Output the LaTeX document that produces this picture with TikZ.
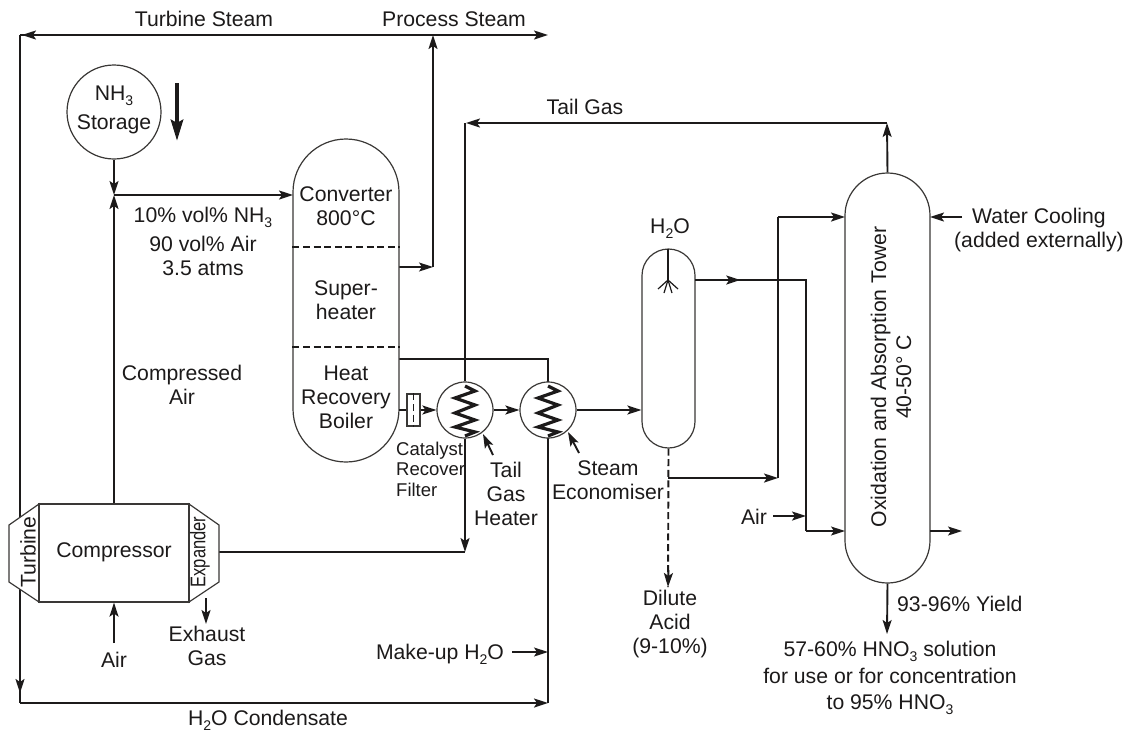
\documentclass[tikz,border=0pt]{standalone}
\usepackage{fontspec}
\usepackage{graphicx}
\setmainfont{Liberation Sans}
\usetikzlibrary{arrows.meta,decorations.markings}
\newcommand{\sbs}[1]{\raisebox{-5pt}{\fontsize{14}{14}\selectfont #1}}
\definecolor{ink}{HTML}{1C1A1A}
\definecolor{shell}{HTML}{3A3836}
\tikzset{
  x=1pt,y=-1pt,
  txt/.style={text=ink,inner sep=0pt,align=center,font=\fontsize{21.2}{24}\selectfont},
  small/.style={txt,align=left,anchor=west,font=\fontsize{18.5}{20.5}\selectfont},
  thin line/.style={draw=ink,line width=1.2pt},
  thick line/.style={draw=ink,line width=1.9pt},
  tipend/.style={-{Stealth[length=14pt,width=9pt,inset=3pt]}},
  tipat/.style={postaction={decorate,decoration={markings,mark=at position #1 with {\arrow{Stealth[length=14pt,width=9pt,inset=3pt]}}}}},
  vessel/.style={draw=shell,line width=1.2pt,fill=white,inner sep=0pt,rectangle},
  exch/.style={circle,draw=shell,line width=1.2pt,fill=white,minimum size=56pt,inner sep=0pt},
  coil/.style={draw=ink,line width=3.2pt,line join=miter},
  divider/.style={draw=ink,line width=1.8pt,dash pattern=on 7pt off 3.6pt},
  divider2/.style={draw=ink,line width=1.2pt,dash pattern=on 7pt off 3.6pt},
}
\begin{document}
\begin{tikzpicture}
\useasboundingbox (0,0) rectangle (1127,732);
% junctions and free ends
\coordinate (steamR) at (548,35);
\coordinate (steamL) at (20,35);
\coordinate (steamJ) at (433,35);
\coordinate (steamT) at (22,35);
\coordinate (condL) at (20,703);
\coordinate (condR) at (548,703);
\coordinate (makeS) at (512,652);
\coordinate (makeE) at (548,652);
\coordinate (supOut) at (399,267);
\coordinate (supC) at (433,267);
\coordinate (boilOut) at (399,359);
\coordinate (boilC) at (548,359);
\coordinate (filtIn) at (399,410);
\coordinate (tailA) at (465,123);
\coordinate (tailT) at (466,123);
\coordinate (tailB) at (887,123);
\coordinate (expC) at (465,552);
\coordinate (expOut) at (219,552);
\coordinate (mixJ) at (114,195);
\coordinate (convIn) at (293,195);
\coordinate (sprayTop) at (668,249);
\coordinate (spray) at (668,280);
\coordinate (abOut) at (695,280);
\coordinate (abC1) at (806,280);
\coordinate (abC2) at (806,531);
\coordinate (towL2) at (845,531);
\coordinate (towR2) at (930,531);
\coordinate (ventE) at (962,531);
\coordinate (drainJ) at (668,478);
\coordinate (drainC) at (778,478);
\coordinate (drainC2) at (778,217);
\coordinate (towL1) at (845,217);
\coordinate (towR1) at (930,217);
\coordinate (waterS) at (962,217);
\coordinate (airS) at (773,516);
\coordinate (airE) at (806,516);
\coordinate (acidE) at (668,587);
\coordinate (prodE) at (887,634);
\coordinate (airCS) at (114,643);
\coordinate (exhS) at (206,598);
\coordinate (exhE) at (206,624);
\coordinate (flowA) at (177,83);
\coordinate (flowB) at (177,141);
\coordinate (lbl1S) at (493,455);
\coordinate (lbl1E) at (483,434);
\coordinate (lbl2S) at (579,453);
\coordinate (lbl2E) at (568,432);

% connectors beneath the equipment
\draw[thick line,tipend] (steamL) -- (steamR);
\draw[thick line,tipend] (steamJ) -- (steamT);
\draw[thick line,tipat=0.985] (steamL) -- (condL);
\draw[thick line,tipend] (condL) -- (condR);
\draw[thin line] (condR) -- (boilC) -- (boilOut);
\draw[thin line,tipend] (makeS) -- (makeE);
\draw[thick line,tipend] (supC) -- (steamJ);
\draw[thin line,tipend] (supOut) -- (supC);
\draw[thin line] (expOut) -- (expC);

% equipment
\node[vessel,minimum width=106pt,minimum height=323pt,rounded corners=53pt] (conv) at (346,300.5) {};
\node[vessel,minimum width=53pt,minimum height=199pt,rounded corners=26.5pt] (scrub) at (668.5,348.5) {};
\node[vessel,minimum width=85pt,minimum height=410pt,rounded corners=42.5pt] (tower) at (887.5,378) {};
\node[vessel,circle,minimum size=94pt] (store) at (114,112) {};
\node[exch] (h1) at (465,410) {};
\node[exch] (h2) at (548,410) {};
\node[vessel,draw=shell,minimum width=13pt,minimum height=32pt] (filt) at (413.5,410) {};
\draw[divider2] (filt.north) -- (filt.south);
\draw[vessel] (39,504) -- (9,525) -- (9,582) -- (39,602) -- cycle;
\draw[vessel] (189,504) -- (219,525) -- (219,582) -- (189,602) -- cycle;
\node[vessel,minimum width=150pt,minimum height=98pt] (comp) at (114,553) {};

\draw[divider] (conv.west |- 0,247) -- (conv.east |- 0,247);
\draw[divider2] (conv.west |- 0,347) -- (conv.east |- 0,347);

% coils
\draw[coil] (465,386) -- (475,391) -- (455,398) -- (475,405) -- (455,413) -- (475,420) -- (455,427) -- (475,432) -- (465,436);
\draw[coil] (548,386) -- (558,391) -- (538,398) -- (558,405) -- (538,413) -- (558,420) -- (538,427) -- (558,432) -- (548,436);

% connectors between equipment
\draw[thin line] (h1.north) -- (tailA);
\draw[thick line,tipend] (tailB) -- (tailT);
\draw[thick line,tipend] (tower.north) -- (tailB);
\draw[thick line,tipend] (h1.south) -- (expC);
\draw[thin line] (boilC) -- (h2.north);
\draw[thin line] (h2.south) -- (condR);
\draw[thick line] (filtIn) -- (filt.west);
\draw[thick line,tipend] (filt.east) -- (h1.west);
\draw[thick line,tipend] (h1.east) -- (h2.west);
\draw[thick line,tipend] (h2.east) -- (scrub.west |- h2.east);
\draw[thick line,tipend] (store.south) -- (mixJ);
\draw[thick line,tipend] (comp.north) -- (mixJ);
\draw[thick line,tipend] (mixJ) -- (convIn);
\draw[line width=4.4pt,draw=ink,-{Stealth[length=21pt,width=12pt,inset=3pt]}] (flowA) -- (flowB);
\draw[thin line] (sprayTop) -- (spray);
\draw[thin line] (658,289) -- (spray) -- (678,289);
\draw[thin line] (664,293) -- (spray) -- (672,293);
\draw[thick line,tipat=0.125] (abOut) -- (abC1) -- (abC2);
\draw[thin line,tipend] (abC2) -- (towL2);
\draw[thin line,tipend] (towR2) -- (ventE);
\draw[thick line,tipend] (drainJ) -- (drainC);
\draw[thick line] (drainC) -- (drainC2);
\draw[thick line,tipend] (drainC2) -- (towL1);
\draw[thick line,tipend] (waterS) -- (towR1);
\draw[thick line,tipend] (airS) -- (airE);
\draw[thick line,dash pattern=on 7pt off 3.6pt] (scrub.south) -- (acidE);
\draw[thick line,tipend] (scrub.south |- 0,570) -- (acidE);
\draw[thick line,tipend] (tower.south) -- (prodE);
\draw[thick line,tipend] (airCS) -- (comp.south);
\draw[thick line,tipend] (exhS) -- (exhE);
\draw[thick line,tipend] (lbl1S) -- (lbl1E);
\draw[thick line,tipend] (lbl2S) -- (lbl2E);

% labels
\node[txt] (tTurb) at (204,19) {Turbine Steam};
\node[txt] (tProc) at (454,19) {Process Steam};
\node[txt] (tTail) at (585,107) {Tail Gas};
\node[txt] (tStore) at (114,110) {NH\sbs{3}\\[5pt]Storage};
\node[txt] (tMix) at (203,241) {10\% vol\% NH\sbs{3}\\[5pt]90 vol\% Air\\3.5 atms};
\node[txt] (tAirC) at (182,385) {Compressed\\Air};
\node[txt] (tConv) at (346,206) {Converter\\800°C};
\node[txt] (tSup) at (346,300) {Super-\\heater};
\node[txt] (tBoil) at (346,397) {Heat\\Recovery\\Boiler};
\node[small] (tFilt) at (396,469) {Catalyst\\Recover\\Filter};
\node[txt] (tTGH) at (506,494) {Tail\\Gas\\Heater};
\node[txt] (tEco) at (608,480) {Steam\\Economiser};
\node[txt] (tWat) at (670,229) {H\sbs{2}O};
\node[txt] (tAcid) at (670,624) {Dilute\\Acid\\(9-10\%)};
\node[txt] (tAir2) at (754,517) {Air};
\node[txt,anchor=west] (tYield) at (897,604) {93-96\% Yield};
\node[txt] (tProd) at (890,678) {57-60\% HNO\sbs{3} solution\\[3pt]for use or for concentration\\[2pt]to 95\% HNO\sbs{3}};
\node[txt] (tCool) at (1039,230) {Water Cooling\\(added externally)};
\node[txt,rotate=90] (tTower) at (891,377) {Oxidation and Absorption Tower\\[1pt]40-50° C};
\node[txt] (tComp) at (114,552) {Compressor};
\node[txt,rotate=90] (tTurbine) at (28,552) {Turbine};
\node[txt,rotate=90] (tExp) at (200,552) {\scalebox{0.78}[1]{Expander}};
\node[txt] (tExh) at (207,646) {Exhaust\\Gas};
\node[txt] (tAir1) at (114,660) {Air};
\node[txt] (tMake) at (440,654) {Make-up H\sbs{2}O};
\node[txt] (tCond) at (268,720) {H\sbs{2}O Condensate};
\end{tikzpicture}
\end{document}
